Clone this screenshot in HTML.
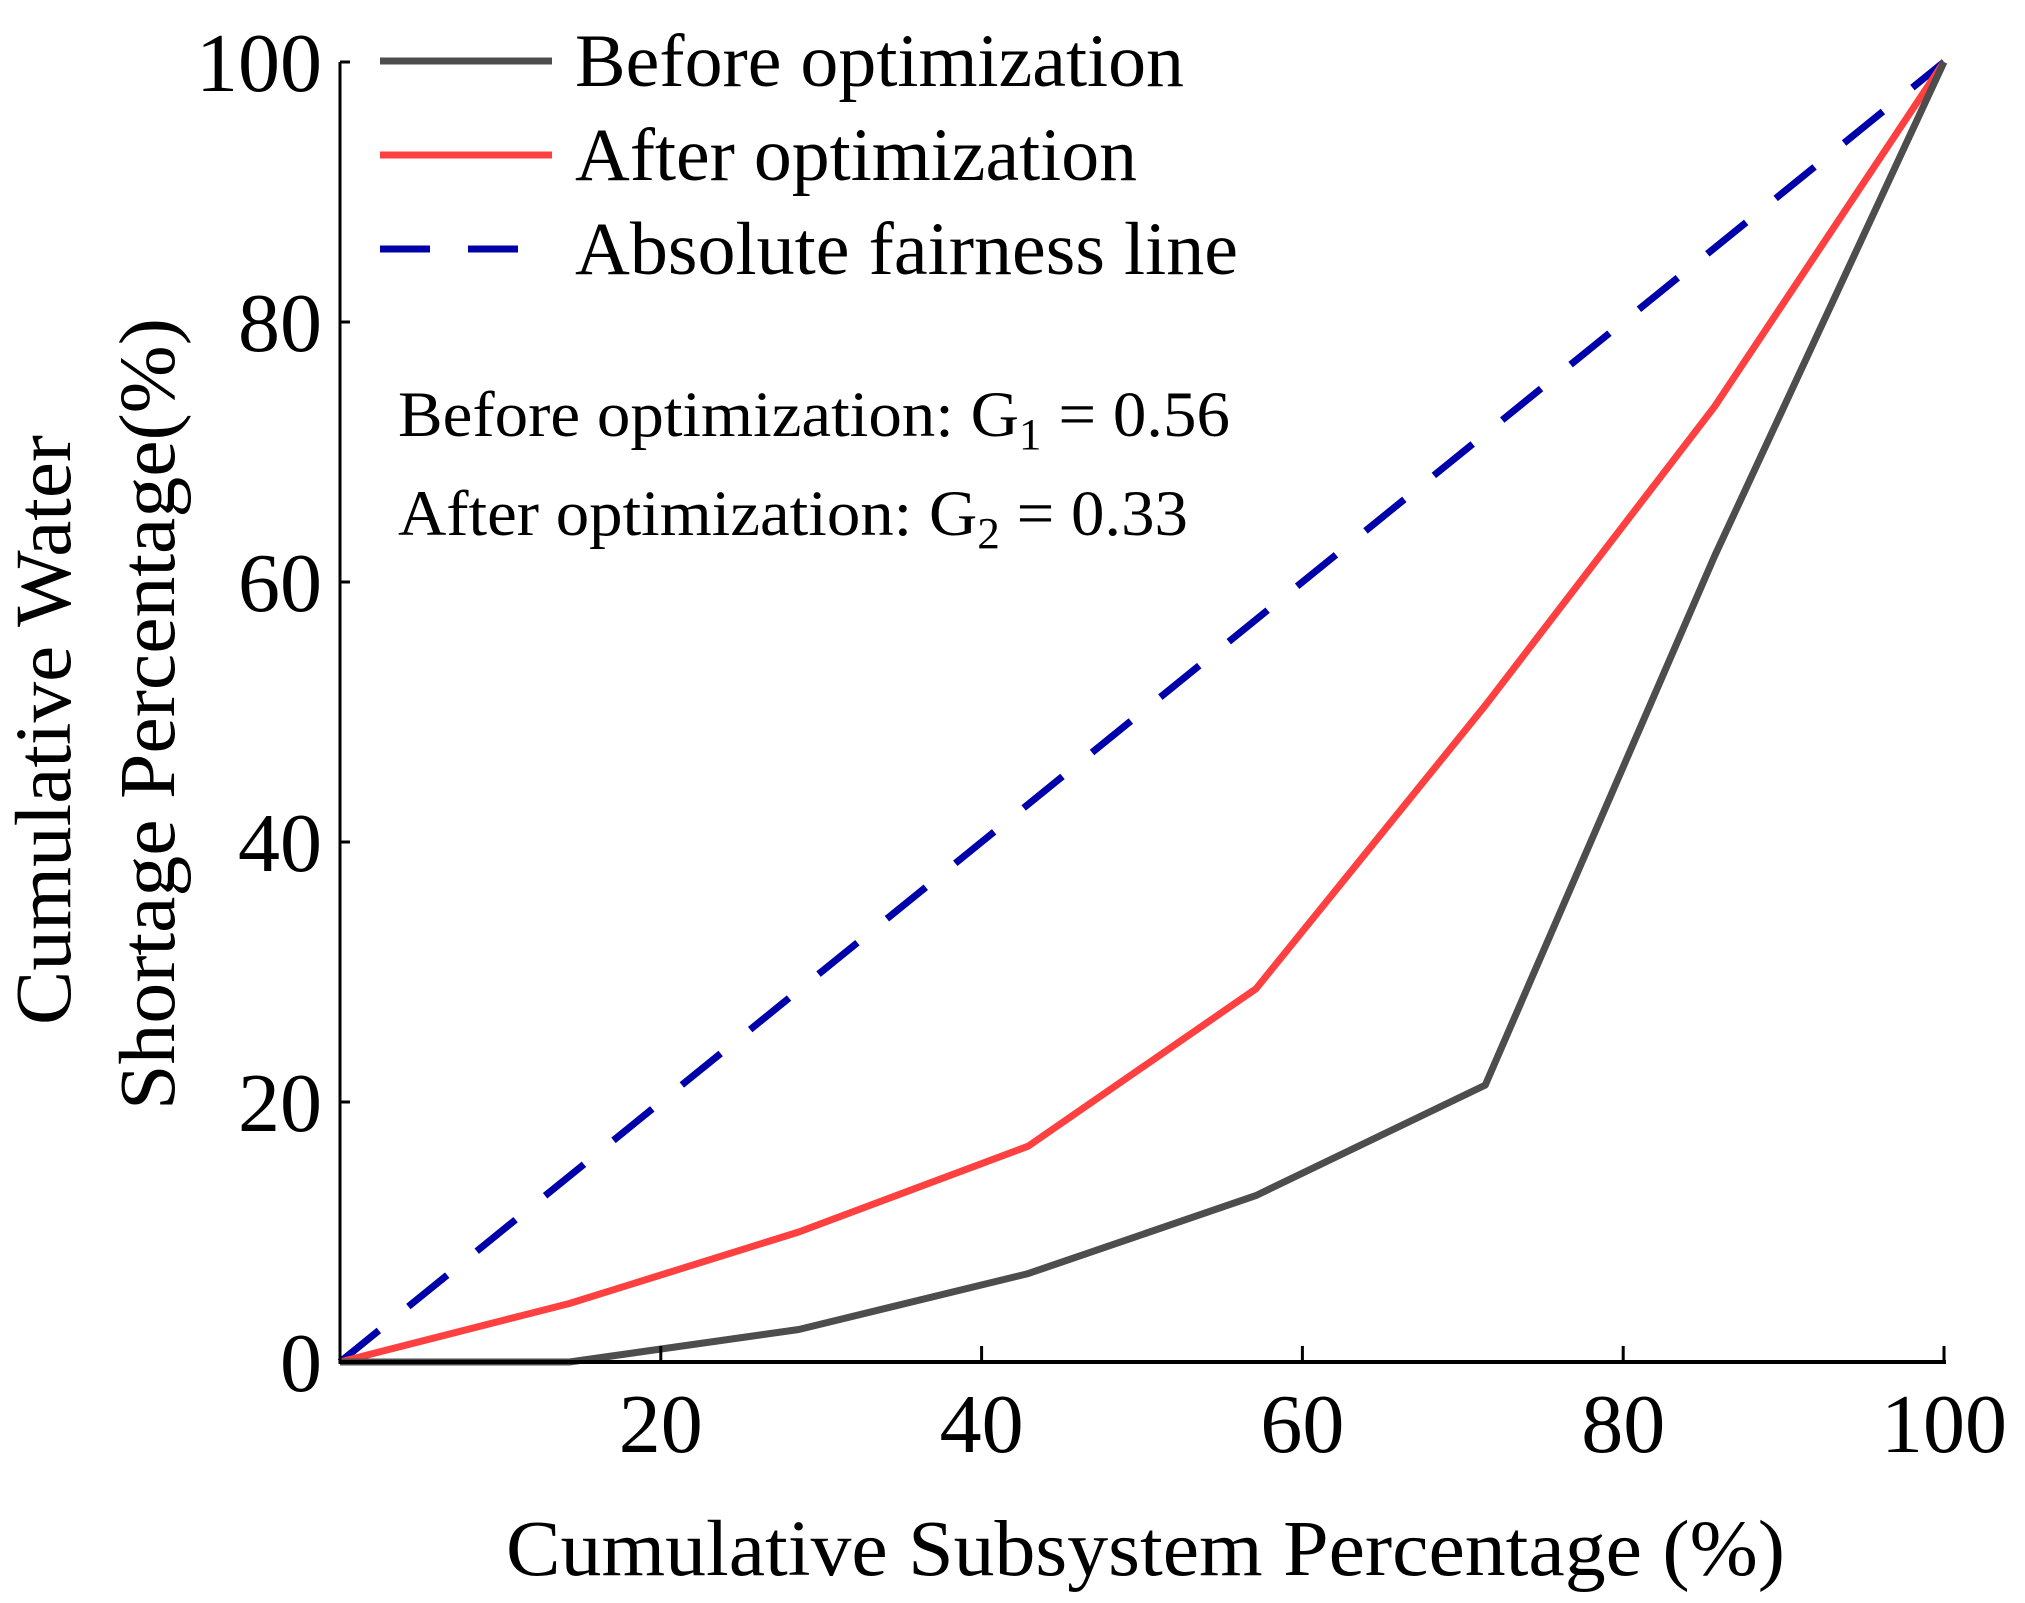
<!DOCTYPE html>
<html><head><meta charset="utf-8"><style>
body{margin:0;background:#fff}
svg{display:block}
text{font-family:"Liberation Serif",serif;fill:#000}
</style></head><body>
<svg id="chart" width="2025" height="1603" viewBox="0 0 2025 1603">
<g id="marks"></g>
<g id="axes"></g>
<g>
<line x1="380" y1="61" x2="552" y2="61" stroke="#4d4d4d" stroke-width="7"/>
<text x="575" y="86" font-size="75" textLength="609" lengthAdjust="spacingAndGlyphs">Before optimization</text>
<line x1="380" y1="155" x2="552" y2="155" stroke="#ff4040" stroke-width="7"/>
<text x="575" y="180" font-size="75" textLength="562" lengthAdjust="spacingAndGlyphs">After optimization</text>
<line x1="380" y1="249" x2="552" y2="249" stroke="#0000aa" stroke-width="7" stroke-dasharray="50 38"/>
<text x="575" y="274" font-size="75" textLength="663" lengthAdjust="spacingAndGlyphs">Absolute fairness line</text>
</g>
<text x="398" y="436" font-size="65" textLength="832" lengthAdjust="spacingAndGlyphs">Before optimization: G<tspan font-size="44" dy="13">1</tspan><tspan dy="-13"> = 0.56</tspan></text>
<text x="398" y="535" font-size="65" textLength="790" lengthAdjust="spacingAndGlyphs">After optimization: G<tspan font-size="44" dy="13">2</tspan><tspan dy="-13"> = 0.33</tspan></text>
<text x="506" y="1575" font-size="79" textLength="1279" lengthAdjust="spacingAndGlyphs">Cumulative Subsystem Percentage (%)</text>
<text transform="translate(70,730) rotate(-90)" x="-295" font-size="79" textLength="590" lengthAdjust="spacingAndGlyphs">Cumulative Water</text>
<text transform="translate(174,714) rotate(-90)" x="-396" font-size="79" textLength="792" lengthAdjust="spacingAndGlyphs">Shortage Percentage(%)</text>
</svg>
<script>
const xValues=[0,14.3,28.6,42.9,57.1,71.4,85.7,100];
const beforeValues=[0,0,2.5,6.8,12.8,21.3,62,100];
const afterValues=[0,4.5,10,16.6,28.7,50.5,73.5,100];
const fairValues=[0,100];
const fairX=[0,100];
const xTicks=[20,40,60,80,100];
const yTicks=[0,20,40,60,80,100];
const NS="http://www.w3.org/2000/svg";
const X0=340,X1=1944,Y0=1362,Y1=62;
function sx(v){return X0+(X1-X0)*v/100;}
function sy(v){return Y0-(Y0-Y1)*v/100;}
const marks=document.getElementById('marks');
const axes=document.getElementById('axes');
function mk(tag,attrs,parent){const e=document.createElementNS(NS,tag);for(const k in attrs)e.setAttribute(k,attrs[k]);parent.appendChild(e);return e;}
function poly(xs,ys,color,dash,name){
  const pts=xs.map((x,i)=>sx(x)+','+sy(ys[i])).join(' ');
  const p=mk('polyline',{points:pts,fill:'none',stroke:color,'stroke-width':7,'stroke-linejoin':'round'},marks);
  if(dash)p.setAttribute('stroke-dasharray',dash);
  
  
}
poly(fairX,fairValues,'#0000aa','50 38','fairness-line');
poly(xValues,afterValues,'#ff4040',null,'after-optimization-line');
poly(xValues,beforeValues,'#4d4d4d',null,'before-optimization-line');
const xa=mk('line',{x1:X0,y1:Y0,x2:X1+2,y2:Y0,stroke:'#000','stroke-width':4},axes);


const ya=mk('line',{x1:X0,y1:Y0+2,x2:X0,y2:Y1,stroke:'#000','stroke-width':3},axes);


xTicks.forEach(t=>{
  const l=mk('line',{x1:sx(t),y1:Y0,x2:sx(t),y2:Y0-16,stroke:'#000','stroke-width':3},axes);
  
  
  const tx=mk('text',{x:sx(t),y:1452,'font-size':84,'text-anchor':'middle'},axes);
  tx.textContent=t;
  
  
});
yTicks.forEach(t=>{
  const l=mk('line',{x1:X0,y1:sy(t),x2:X0+10,y2:sy(t),stroke:'#000','stroke-width':3},axes);
  
  
  const tx=mk('text',{x:322,y:sy(t)+29,'font-size':84,'text-anchor':'end'},axes);
  tx.textContent=t;
  
  
});
</script>
</body></html>
